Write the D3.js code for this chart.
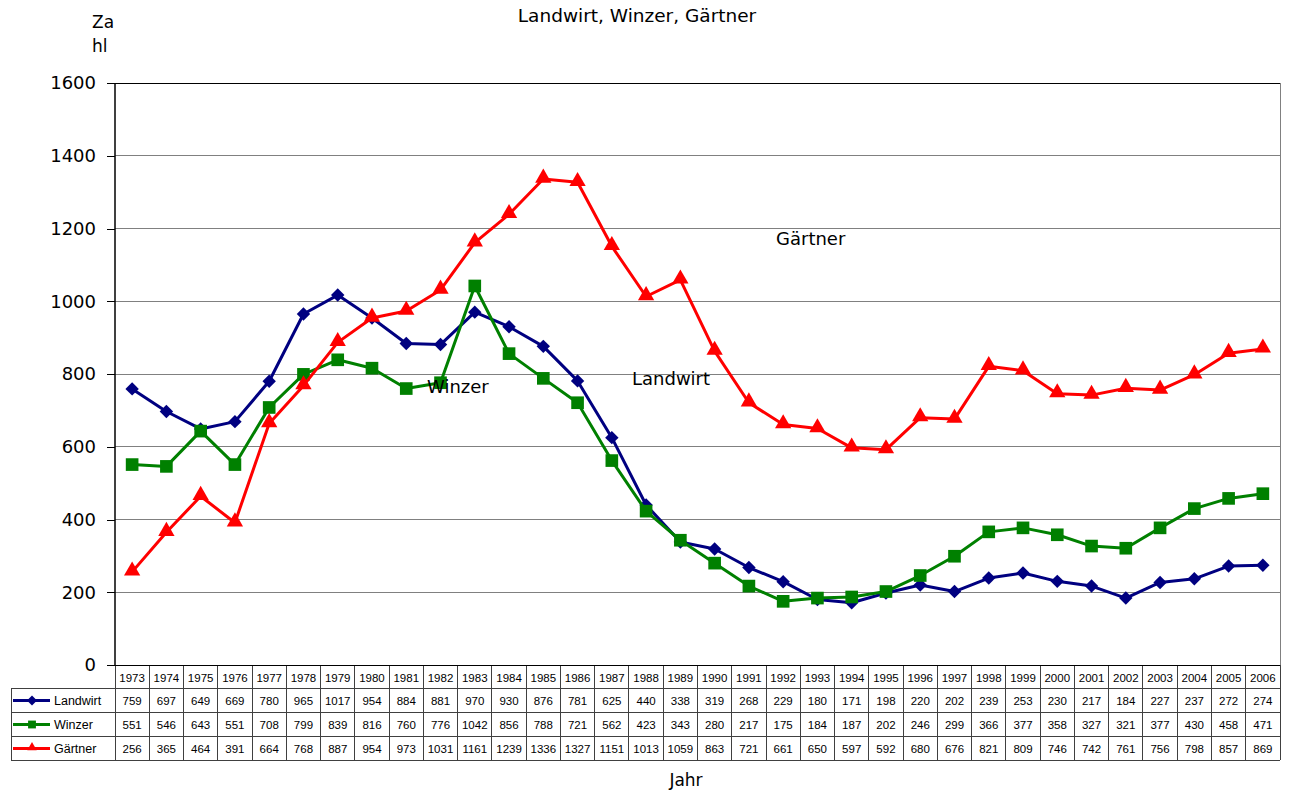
<!DOCTYPE html>
<html><head><meta charset="utf-8">
<script src="https://cdn.jsdelivr.net/npm/d3@7"></script>
<style>
html,body{margin:0;padding:0;background:#fff;}
svg{display:block;}
</style>
</head><body>
<svg id="c" width="1290" height="792"></svg>
<script>
const years = [1973,1974,1975,1976,1977,1978,1979,1980,1981,1982,1983,1984,1985,1986,1987,1988,1989,1990,1991,1992,1993,1994,1995,1996,1997,1998,1999,2000,2001,2002,2003,2004,2005,2006];
const landwirt = [759,697,649,669,780,965,1017,954,884,881,970,930,876,781,625,440,338,319,268,229,180,171,198,220,202,239,253,230,217,184,227,237,272,274];
const winzer = [551,546,643,551,708,799,839,816,760,776,1042,856,788,721,562,423,343,280,217,175,184,187,202,246,299,366,377,358,327,321,377,430,458,471];
const gaertner = [256,365,464,391,664,768,887,954,973,1031,1161,1239,1336,1327,1151,1013,1059,863,721,661,650,597,592,680,676,821,809,746,742,761,756,798,857,869];
const yTicks = [0,200,400,600,800,1000,1200,1400,1600];
const seriesNames = ["Landwirt","Winzer","Gärtner"];

const series = [
  {name: seriesNames[0], values: landwirt, color: "#000080", sym: "diamond", lx: 632, ly: 385},
  {name: seriesNames[1], values: winzer, color: "#008000", sym: "square", lx: 427, ly: 393},
  {name: seriesNames[2], values: gaertner, color: "#ff0000", sym: "triangle", lx: 776, ly: 245}
];

const svg = d3.select("#c");
const L = 115, R = 1280, T = 83, B = 665;
const x = d3.scaleBand().domain(years).range([L, R]).padding(0);
const y = d3.scaleLinear().domain([0, 1600]).range([B, T]);
const FONT = "DejaVu Sans, Verdana, sans-serif";
const TFONT = "Liberation Sans, Arial, sans-serif";

// title
svg.append("text").attr("x", 637).attr("y", 22).attr("text-anchor", "middle")
  .attr("font-family", FONT).attr("font-size", 18.5).text("Landwirt, Winzer, Gärtner");
// y axis title
svg.append("text").attr("x", 92).attr("y", 28).attr("font-family", FONT).attr("font-size", 17).text("Za");
svg.append("text").attr("x", 92).attr("y", 52).attr("font-family", FONT).attr("font-size", 17).text("hl");
// x title
svg.append("text").attr("x", 686).attr("y", 786).attr("text-anchor", "middle")
  .attr("font-family", FONT).attr("font-size", 17).text("Jahr");

// gridlines
svg.append("g").selectAll("line").data(yTicks.filter(d => d > 0)).join("line")
  .attr("x1", L).attr("x2", R).attr("y1", d => y(d)).attr("y2", d => y(d))
  .attr("stroke", d => d === 1600 ? "#000" : "#808080").attr("stroke-width", 1)
  .attr("shape-rendering", "crispEdges");
// right border
svg.append("line").attr("x1", R).attr("x2", R).attr("y1", T).attr("y2", B)
  .attr("stroke", "#808080").attr("shape-rendering", "crispEdges");

// y axis
const yAxis = d3.axisLeft(y).tickValues(yTicks).tickSize(8).tickPadding(11).tickFormat(d => d);
const gy = svg.append("g").attr("transform", `translate(${L},0)`).call(yAxis);
gy.select(".domain").remove();
gy.selectAll(".tick line").attr("stroke", "#000").attr("shape-rendering", "crispEdges");
gy.selectAll(".tick text").attr("font-family", FONT).attr("font-size", 18).attr("fill", "#000");
svg.append("line").attr("x1", L).attr("x2", L).attr("y1", T).attr("y2", B)
  .attr("stroke", "#000").attr("stroke-width", 1.5);

// symbol generators
function symPath(type) {
  if (type === "diamond") return d3.symbol().type(d3.symbolSquare).size(90)();
  if (type === "square") return d3.symbol().type(d3.symbolSquare).size(160)();
  return d3.symbol().type(d3.symbolTriangle).size(115)();
}
function symTransform(type, cx, cy) {
  if (type === "diamond") return `translate(${cx},${cy}) rotate(45)`;
  if (type === "triangle") return `translate(${cx},${cy - 1})`;
  return `translate(${cx},${cy})`;
}

const xc = d => x(d) + x.bandwidth() / 2;
const line = d3.line().x((d, i) => xc(years[i])).y(d => y(d));

series.forEach(s => {
  const g = svg.append("g");
  g.append("path").datum(s.values).attr("d", line).attr("fill", "none")
    .attr("stroke", s.color).attr("stroke-width", 3).attr("stroke-linejoin", "round");
  g.selectAll("path.m").data(s.values).join("path").attr("class", "m")
    .attr("d", symPath(s.sym))
    .attr("transform", (d, i) => symTransform(s.sym, xc(years[i]), y(d)))
    .attr("fill", s.color);
});
// in-chart labels
series.forEach(s => {
  svg.append("text").attr("x", s.lx).attr("y", s.ly).attr("font-family", FONT)
    .attr("font-size", 18).attr("fill", "#000").text(s.name);
});

// data table
const rowTop = [665, 688.5, 712.5, 736.5];
const rowBot = 760;
const tbl = svg.append("g");
const gridC = "#404040";
years.forEach(yr => {
  const x0 = x(yr);
  tbl.append("text").attr("x", x0 + x.bandwidth() / 2).attr("y", 681.5).attr("text-anchor", "middle")
    .attr("font-family", TFONT).attr("font-size", 11.5).text(yr);
});
years.concat([null]).forEach((yr, i) => {
  const xx = i < years.length ? x(yr) : R;
  tbl.append("line").attr("x1", xx).attr("x2", xx).attr("y1", 665).attr("y2", rowBot)
    .attr("stroke", gridC).attr("shape-rendering", "crispEdges");
});
[688.5, 712.5, 736.5, 760].forEach(yy => {
  tbl.append("line").attr("x1", 11).attr("x2", R).attr("y1", yy).attr("y2", yy)
    .attr("stroke", gridC).attr("shape-rendering", "crispEdges");
});
tbl.append("line").attr("x1", L).attr("x2", R).attr("y1", 665).attr("y2", 665)
  .attr("stroke", "#000").attr("shape-rendering", "crispEdges");
tbl.append("line").attr("x1", 11).attr("x2", 11).attr("y1", 688.5).attr("y2", rowBot)
  .attr("stroke", gridC).attr("shape-rendering", "crispEdges");

series.forEach((s, si) => {
  const top = rowTop[si + 1];
  const cy = top + 12;
  tbl.append("line").attr("x1", 13).attr("x2", 50).attr("y1", cy).attr("y2", cy)
    .attr("stroke", s.color).attr("stroke-width", 3);
  const sc = s.sym === "diamond" ? 0.75 : (s.sym === "square" ? 0.62 : 0.58);
  tbl.append("path").attr("d", symPath(s.sym))
    .attr("transform", symTransform(s.sym, 32, cy) + ` scale(${sc})`).attr("fill", s.color);
  tbl.append("text").attr("x", 54).attr("y", cy + 4.5).attr("font-family", TFONT)
    .attr("font-size", 12.5).text(s.name);
  s.values.forEach((v, i) => {
    tbl.append("text").attr("x", xc(years[i])).attr("y", cy + 4.5).attr("text-anchor", "middle")
      .attr("font-family", TFONT).attr("font-size", 11.5).text(v);
  });
});
</script>
</body></html>
